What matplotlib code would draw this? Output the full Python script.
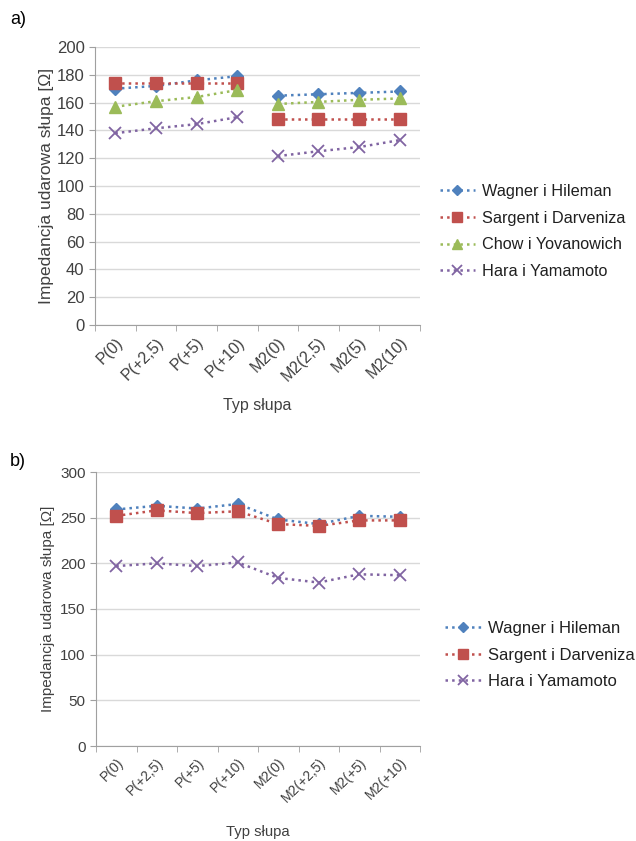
import matplotlib
matplotlib.use("Agg")
import matplotlib.pyplot as plt
import numpy as np

plt.rcParams['font.family'] = ['Liberation Sans', 'DejaVu Sans']

# chart a) data
cats_a = ['P(0)', 'P(+2,5)', 'P(+5)', 'P(+10)', 'M2(0)', 'M2(2,5)', 'M2(5)', 'M2(10)']
wagner_a = [170, 172, 176, 179, 165, 166, 167, 168]
sargent_a = [174, 174, 174, 174, 148, 148, 148, 148]
chow_a = [157, 161, 164, 169, 159, 160.5, 162, 163]
hara_a = [138, 141.5, 144.5, 149.5, 121.5, 125, 128, 133]

# chart b) data
cats_b = ['P(0)', 'P(+2,5)', 'P(+5)', 'P(+10)', 'M2(0)', 'M2(+2,5)', 'M2(+5)', 'M2(+10)']
wagner_b = [259, 263, 260, 265, 248, 243, 252, 251]
sargent_b = [252, 258, 255, 257, 243, 241, 247, 247]
hara_b = [197, 200, 197, 201, 184, 179, 188, 187]

W, H = 636, 841
fig = plt.figure(figsize=(W / 100, H / 100), dpi=100)

colors = {'w': '#4F81BD', 's': '#C0504D', 'c': '#9BBB59', 'h': '#8064A2'}
markers = {'w': dict(marker='D', markersize=6.5),
           's': dict(marker='s', markersize=9),
           'c': dict(marker='^', markersize=8.5),
           'h': dict(marker='x', markersize=9, markeredgewidth=1.3)}


def px_axes(left, top, right, bottom):
    return fig.add_axes([left / W, 1 - bottom / H, (right - left) / W, (bottom - top) / H])


def style(ax, cats, ymax, step, fs_y, fs_x, fs_lab, fs_xlab, xpad):
    x = np.arange(len(cats))
    ax.set_xlim(-0.5, len(cats) - 0.5)
    ax.set_ylim(0, ymax)
    ax.set_yticks(np.arange(0, ymax + 1, step))
    ax.set_xticks(x)
    ax.set_xticklabels(cats, rotation=45, ha='right', rotation_mode='anchor', fontsize=fs_x,
                       color='#404040')
    ax.set_xticks(np.arange(-0.5, len(cats), 1), minor=True)
    ax.tick_params(axis='x', which='major', length=0, pad=7)
    ax.tick_params(axis='x', which='minor', length=4, color='#A0A0A0')
    ax.tick_params(axis='y', length=4, color='#A0A0A0', labelsize=fs_y, labelcolor='#404040')
    ax.grid(axis='y', color='#D9D9D9', linewidth=1)
    ax.set_axisbelow(True)
    for s in ['top', 'right']:
        ax.spines[s].set_visible(False)
    for s in ['left', 'bottom']:
        ax.spines[s].set_color('#A0A0A0')
    ax.set_xlabel('Typ słupa', fontsize=fs_xlab, color='#404040', labelpad=xpad)
    ax.set_ylabel('Impedancja udarowa słupa [Ω]', fontsize=fs_lab, color='#404040')


kw = dict(linestyle=':', linewidth=1.8)

# ---- a)  (the P and M2 groups are not joined)
ax1 = px_axes(95, 47, 420, 325)
x = np.arange(len(cats_a))
series_a = [('w', wagner_a, 'Wagner i Hileman'), ('s', sargent_a, 'Sargent i Darveniza'),
            ('c', chow_a, 'Chow i Yovanowich'), ('h', hara_a, 'Hara i Yamamoto')]
for key, vals, name in series_a:
    ax1.plot(x[:4], vals[:4], color=colors[key], label=name, **markers[key], **kw)
    ax1.plot(x[4:], vals[4:], color=colors[key], **markers[key], **kw)
style(ax1, cats_a, 200, 20, 12, 11.5, 12.5, 11.5, 10)
ax1.yaxis.labelpad = 2
ax1.legend(loc='center left', bbox_to_anchor=(1.015, 0.336), frameon=False, fontsize=11.7,
           handlelength=2.2, labelspacing=0.72, handletextpad=0.4, markerscale=0.8,
           labelcolor='#202020')
fig.text(10 / W, 1 - 20 / H, 'a)', fontsize=13, va='center')

# ---- b)
ax2 = px_axes(96, 472, 420, 746)
x = np.arange(len(cats_b))
series_b = [('w', wagner_b, 'Wagner i Hileman'), ('s', sargent_b, 'Sargent i Darveniza'),
            ('h', hara_b, 'Hara i Yamamoto')]
for key, vals, name in series_b:
    ax2.plot(x, vals, color=colors[key], label=name, **markers[key], **kw)
style(ax2, cats_b, 300, 50, 11, 10, 11, 10.7, 14)
ax2.legend(loc='center left', bbox_to_anchor=(1.03, 0.332), frameon=False, fontsize=12,
           handlelength=2.2, labelspacing=0.7, handletextpad=0.4, markerscale=0.8,
           labelcolor='#202020')
fig.text(10 / W, 1 - 461 / H, 'b)', fontsize=13, va='center')

fig.savefig('out.png', dpi=100)
